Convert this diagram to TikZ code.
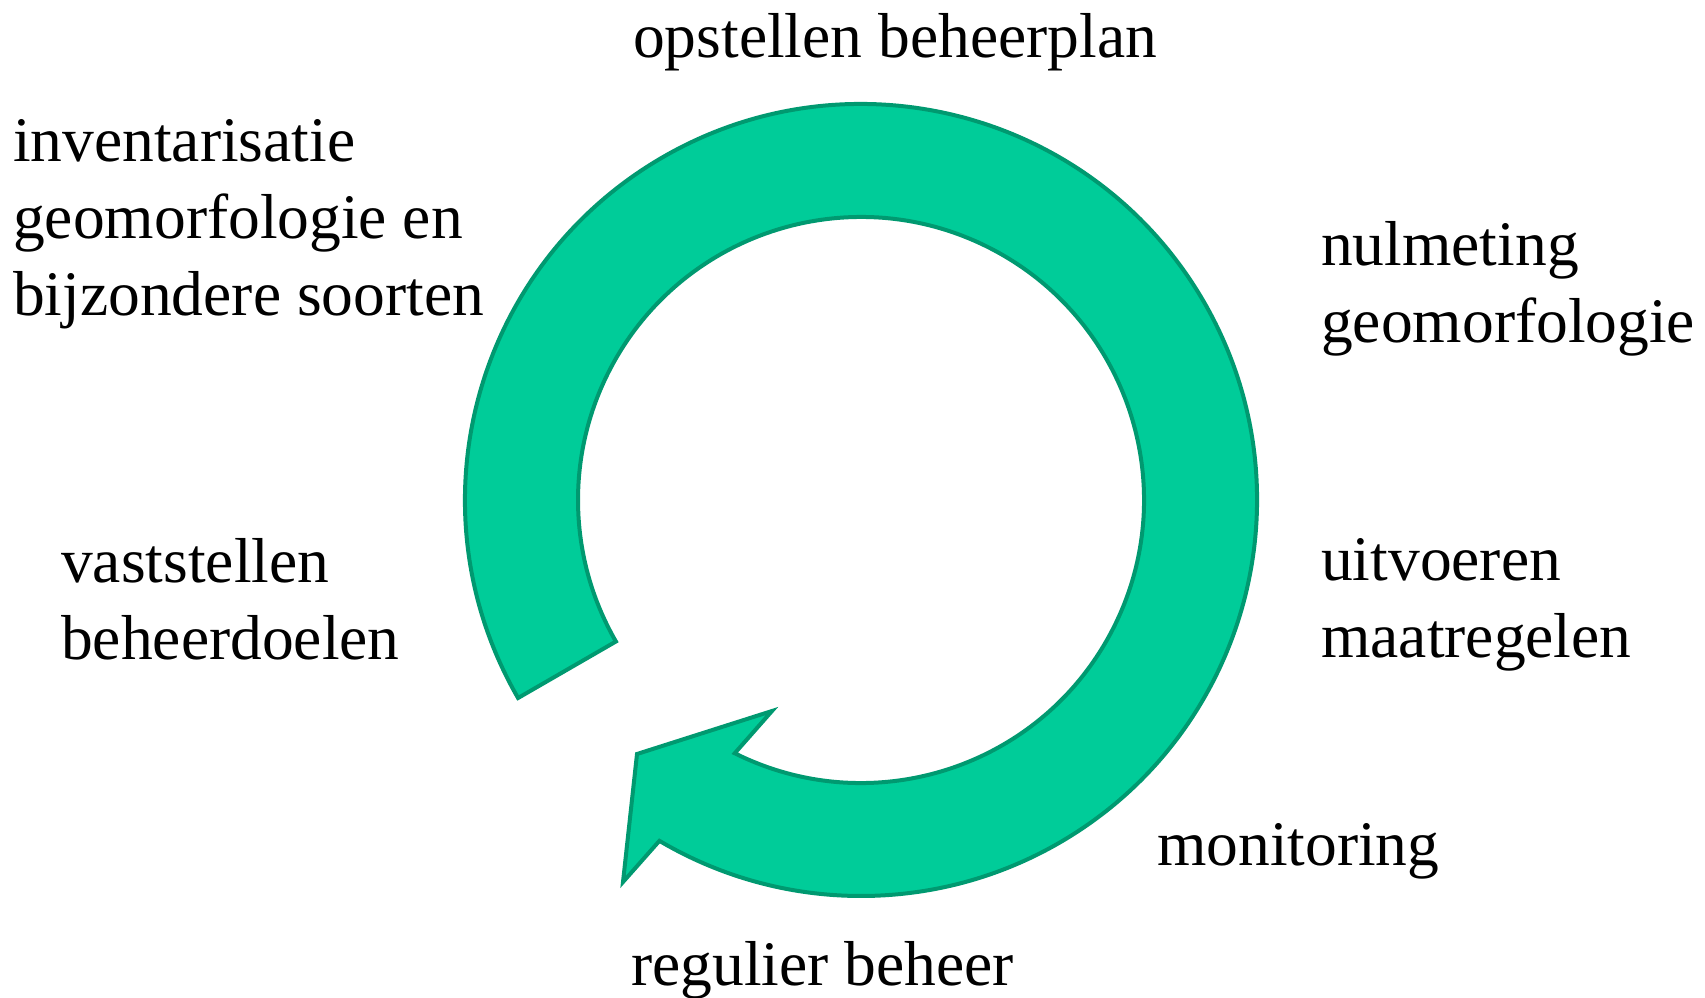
\documentclass[tikz,border=0pt]{standalone}
\usepackage{fontspec}
\setmainfont{Liberation Serif}
\usetikzlibrary{calc}
\definecolor{ringfill}{RGB}{0,204,153}
\definecolor{ringline}{RGB}{0,153,112}
\tikzset{
  lbl/.style={anchor=base west, inner sep=0pt, align=left,
    font=\fontsize{63.5}{77}\selectfont, text=black},
  ringarrow/.style={fill=ringfill, draw=ringline, line width=4pt, line join=miter}
}
\begin{document}
\begin{tikzpicture}[x=1pt,y=-1pt]
\useasboundingbox (0,0) rectangle (1705,998);
\coordinate (C) at (861,500);
\coordinate (tip) at (623,882);
\coordinate (corner) at (637,754);
\coordinate (barb) at (772,711);
\draw[ringarrow] ($(C)+(150:396)$) arc[start angle=150, end angle=480.6, radius=396]
  -- (tip) -- (corner) -- (barb)
  -- ($(C)+(476.5:283)$) arc[start angle=476.5, end angle=150, radius=283]
  -- cycle;
% base anchor of a multi-line node lies on its last line
\node[lbl] (opst) at (633,58) {opstellen beheerplan};
\node[lbl] (inv) at (13,315) {inventarisatie\\geomorfologie en\\bijzondere soorten};
\node[lbl] (nul) at (1321,342) {nulmeting\\geomorfologie};
\node[lbl] (uitv) at (1321,657) {uitvoeren\\maatregelen};
\node[lbl] (vast) at (61,659) {vaststellen\\beheerdoelen};
\node[lbl] (mon) at (1157,865) {monitoring};
\node[lbl] (reg) at (631,985) {regulier beheer};
\end{tikzpicture}
\end{document}
